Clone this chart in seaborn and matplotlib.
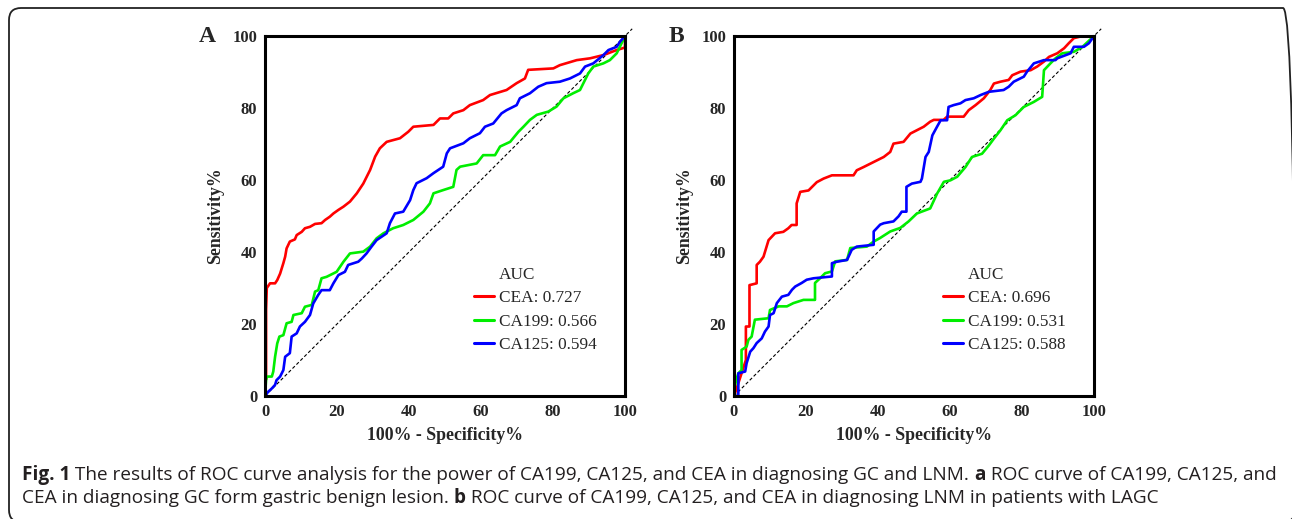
"""
ROC curves of CEA, CA199 and CA125 (Fig. 1, panels A and B)
"""
import numpy as np
import pandas as pd
import matplotlib
matplotlib.use("Agg")
import matplotlib.pyplot as plt
from matplotlib.lines import Line2D
from matplotlib.patches import FancyBboxPatch
from matplotlib.transforms import IdentityTransform
import seaborn as sns

# ---- data (100% - specificity%, sensitivity%) ----
markers = ["CEA", "CA199", "CA125"]
colors = ["#ff0000", "#00ee00", "#0000ff"]

auc_a = [0.727, 0.566, 0.594]
auc_b = [0.696, 0.531, 0.588]

# panel A: GC vs gastric benign lesion
a_cea_x = [0, 0, 0.3, 0.3, 0.5, 1.4, 2.8, 3.4, 4.2, 5.1, 5.6, 6, 6.9, 8.3, 8.8, 10.2, 11.1, 12.5, 13.9, 15.7,
           16.7, 18, 19, 20.4, 21.8, 23.6, 25.5, 27.3, 29.2, 30.6, 31.9, 33.8, 37.5, 39.8, 41.2, 46.8, 48.6,
           50.9, 52.3, 55.1, 56.9, 60.6, 62.5, 67.1, 69.9, 72.2, 73.1, 80.1, 81.9, 86.6, 90.3, 94, 97.7, 100, 100]
a_cea_y = [0, 4.6, 4.6, 24, 30, 31.3, 31.3, 32.2, 34, 36.9, 38.7, 41, 42.9, 43.5, 44.7, 45.6, 46.6, 47, 47.8, 48,
           48.9, 49.8, 50.7, 51.7, 52.6, 54, 56.3, 59, 62.8, 66.5, 68.8, 70.6, 71.6, 73.4, 74.8, 75.3, 77.1,
           77.1, 78.5, 79.4, 80.8, 82.2, 83.6, 85, 86.9, 88.2, 90.6, 91, 91.9, 93.3, 93.8, 94.7, 96.1, 96.8, 100]
a_ca199_x = [0, 0.3, 0.5, 1.9, 2.3, 2.8, 3.4, 4, 5.1, 6, 7.4, 7.9, 10.2, 11.1, 13, 13.9, 14.8, 15.7, 17.1, 19.9,
             21.8, 23.6, 27.3, 29.2, 31, 32.9, 35.6, 38.4, 41.2, 44, 45.8, 46.8, 49.5, 52.3, 53.2, 54.2, 58.8,
             60.6, 63.9, 65.3, 68.1, 70.4, 71.8, 73.6, 75.5, 78.7, 81, 82.9, 85.6, 87.5, 88.9, 89.8, 91.2, 94,
             95.8, 97.7, 99.5, 100]
a_ca199_y = [0, 4.4, 5.4, 5.4, 6.8, 10.9, 14.6, 16.5, 16.9, 20.2, 20.6, 22.5, 23, 24.8, 25.3, 29, 29.4, 32.7,
             33.1, 34.5, 37.3, 39.6, 40.1, 41.5, 43.8, 45.2, 46.6, 47.5, 48.9, 51.2, 53.5, 56.3, 57.2, 58.1,
             62.8, 63.7, 64.6, 66.9, 66.9, 69.3, 70.6, 73.4, 74.8, 76.7, 78.1, 79, 80.4, 82.7, 84.1, 85, 87.8,
             89.6, 91.5, 92.4, 93.3, 95.2, 98.9, 100]
a_ca125_x = [0, 0.9, 1.9, 2.8, 3.2, 4.2, 5.1, 5.6, 6.9, 7.4, 8.8, 9.7, 11.1, 12.5, 13.4, 14.8, 15.7, 18, 19,
             20.4, 22.2, 23.1, 25.9, 26.9, 28.2, 29.6, 31, 33.8, 34.7, 36.1, 38.4, 40.3, 41.2, 42.1, 44.9, 46.8,
             49.5, 50.5, 51.4, 55.1, 56.9, 59.7, 61.1, 63.4, 65.7, 67.1, 69.9, 70.8, 73.6, 75.9, 78.2, 81.9,
             84.7, 87.5, 88.9, 91.2, 94, 95.4, 97.7, 98.6, 100]
a_ca125_y = [0, 1.2, 2.1, 3.1, 4.4, 5.4, 7.2, 10.9, 11.9, 16.5, 17.4, 19.3, 20.6, 22.5, 25.7, 28.1, 29.4, 29.4,
             31.3, 33.6, 34.5, 36.4, 37.3, 38.2, 39.6, 41.5, 43.3, 45.2, 48, 50.7, 51.2, 54.4, 57.2, 59.1, 60.5,
             61.9, 63.7, 67.4, 68.8, 70.2, 71.6, 73, 74.8, 75.7, 78.5, 79.4, 80.8, 82.7, 84.1, 85.9, 86.9, 87.3,
             88.2, 89.6, 91.5, 92.4, 94.7, 96.1, 97, 98.4, 100]

# panel B: LNM in patients with LAGC
b_cea_x = [0, 0.6, 3.3, 3.3, 4.3, 4.3, 6.3, 6.3, 7.2, 8.2, 9.6, 11.4, 13.7, 15.1, 16, 17.4, 17.4, 18.4, 20.7,
           22.1, 23, 24.9, 27.2, 33.2, 34.1, 36, 38.8, 41.6, 43.4, 44.3, 47.1, 49, 52.7, 54.5, 55.5, 58.2, 59.2,
           63.8, 65.2, 67.1, 69.4, 71.2, 72.2, 74, 76.3, 77.3, 79.6, 82.4, 84.2, 86.1, 87.5, 89.8, 91.7, 93,
           94.4, 96.8, 100]
b_cea_y = [0, 1.7, 10, 19.3, 19.3, 30.8, 31.3, 36.4, 37.3, 38.7, 43.3, 45.2, 45.6, 46.6, 47.5, 47.5, 53.5, 56.7,
           57.1, 58.5, 59.4, 60.4, 61.3, 61.3, 62.7, 63.6, 65, 66.4, 67.8, 70.1, 70.6, 72.9, 74.8, 76.2, 76.7,
           76.7, 77.6, 77.6, 79.4, 80.8, 82.7, 85, 86.8, 87.3, 87.8, 89.1, 90.1, 90.5, 91.5, 92.9, 94.2, 95.2,
           96.6, 98, 99.4, 100, 100]
b_ca199_x = [0, 0, 0.6, 1.2, 2.1, 2.1, 3.5, 4, 4.9, 5.8, 9.6, 10, 12.4, 14.7, 16.5, 19.3, 22.5, 22.5, 23.9, 25.3,
             27.2, 28.1, 31.4, 32.3, 36.9, 38.8, 40.6, 43.4, 46.2, 48.5, 50.8, 54.5, 56.4, 58.3, 60.1, 62, 64.3,
             66.1, 68.9, 70.8, 72.2, 74, 75.9, 78.2, 80.5, 83.3, 85.6, 86.1, 87.9, 89.3, 91.2, 94.4, 96.8, 100]
b_ca199_y = [0, 1.7, 4.4, 6.3, 7.2, 12.8, 13.7, 15.6, 16.5, 21.2, 21.6, 23.9, 24.9, 24.9, 25.8, 26.7, 26.7, 31.4,
             32.7, 34.1, 34.6, 37.4, 37.8, 41.1, 41.5, 42.9, 43.9, 45.7, 46.7, 48.5, 50.7, 52.1, 56.2, 59.5,
             59.9, 60.9, 63.6, 66.4, 67.3, 69.6, 71.5, 73.8, 76.6, 78, 80.3, 81.7, 83.1, 90.5, 92.4, 93.8, 95.2,
             95.6, 97, 100]
b_ca125_x = [0, 1.2, 1.2, 3.1, 3.5, 4.5, 5.4, 6.3, 7.7, 8.6, 9.6, 10, 11, 11.9, 13.3, 15.1, 16.1, 17, 18.8, 20.2,
             22.1, 27.2, 27.2, 28.6, 31.4, 32.7, 34.1, 38.8, 38.8, 40.6, 41.6, 44.3, 45.7, 46.6, 47.9, 47.9, 49.4,
             51.8, 52.2, 53.2, 54.1, 55.1, 56.4, 57.4, 59.2, 59.6, 61, 62.9, 64.3, 66.6, 68.5, 70.8, 74.9, 76.3,
             77.7, 80.5, 81.4, 83.3, 86.1, 89.3, 89.8, 93.5, 94.4, 97.2, 98.6, 100]
b_ca125_y = [0, 0, 6.3, 6.8, 9.1, 12.3, 13.3, 14.7, 16, 17.9, 19.3, 22.5, 23, 25.8, 27.6, 28.1, 29.5, 30.4, 31.4,
             32.3, 32.7, 33.2, 36.9, 37.3, 37.8, 40.6, 41.5, 42, 45.7, 47.6, 48, 48.5, 49.9, 51.2, 51.2, 58.1, 59,
             59.5, 60.4, 66.4, 67.8, 72.4, 74.8, 76.6, 76.6, 80.3, 80.8, 81.3, 82.2, 82.7, 83.6, 84.5, 85, 85.9,
             87.3, 88.7, 90.1, 92.4, 93.3, 93.3, 93.8, 95.2, 97, 97, 98, 100]

caption_1 = [("Fig. 1", "bold"),
             (" The results of ROC curve analysis for the power of CA199, CA125, and CEA in diagnosing GC and LNM. ", "normal"),
             ("a", "bold"),
             (" ROC curve of CA199, CA125, and", "normal")]
caption_2 = [("CEA in diagnosing GC form gastric benign lesion. ", "normal"),
             ("b", "bold"),
             (" ROC curve of CA199, CA125, and CEA in diagnosing LNM in patients with LAGC", "normal")]


def make_frame(curves, aucs):
    parts = []
    for name, (xs, ys), auc in zip(markers, curves, aucs):
        parts.append(pd.DataFrame({"fpr": xs, "sens": ys, "curve": f"{name}: {auc:.3f}"}))
    return pd.concat(parts, ignore_index=True)


df_a = make_frame([(a_cea_x, a_cea_y), (a_ca199_x, a_ca199_y), (a_ca125_x, a_ca125_y)], auc_a)
df_b = make_frame([(b_cea_x, b_cea_y), (b_ca199_x, b_ca199_y), (b_ca125_x, b_ca125_y)], auc_b)

sns.set_theme(style="white")
plt.rcParams["font.family"] = ["Liberation Serif", "DejaVu Serif"]

fig = plt.figure(figsize=(12.92, 5.19), dpi=100)
ax_a = fig.add_axes([265 / 1292, 1 - 396 / 519, 360 / 1292, 360 / 519])
ax_b = fig.add_axes([734 / 1292, 1 - 396 / 519, 360 / 1292, 360 / 519])


def draw_panel(ax, df, letter):
    labels = df["curve"].unique().tolist()
    sns.lineplot(data=df, x="fpr", y="sens", hue="curve", hue_order=labels,
                 palette=dict(zip(labels, colors)), sort=False, estimator=None,
                 lw=1.9, ax=ax, legend=False)
    # reference diagonal
    ax.plot([0, 102], [0, 102], color="black", lw=0.8, ls=(0, (3, 2)), clip_on=False, zorder=1)

    ax.set_xlim(0, 100)
    ax.set_ylim(0, 100)
    ax.set_xticks(range(0, 101, 20))
    ax.set_yticks(range(0, 101, 20))
    ax.tick_params(axis="both", which="major", direction="out", length=4, width=1.6,
                   color="black", labelsize=12, pad=1.5)
    for lab in ax.get_xticklabels() + ax.get_yticklabels():
        lab.set_fontweight("bold")
    for sp in ax.spines.values():
        sp.set_visible(True)
        sp.set_color("black")
        sp.set_linewidth(2.2)

    ax.set_xlabel("100% - Specificity%", fontsize=12.8, fontweight="bold", labelpad=5)
    ax.set_ylabel("Sensitivity%", fontsize=12.8, fontweight="bold", labelpad=6)
    ax.text(-0.16, 1.0, letter, transform=ax.transAxes, fontsize=17, fontweight="bold",
            ha="center", va="center")

    handles = [Line2D([], [], color="none")] + [Line2D([], [], color=c, lw=2.2) for c in colors]
    leg = ax.legend(handles, ["AUC"] + labels, loc="upper left", bbox_to_anchor=(0.58, 0.358),
                    frameon=False, fontsize=12.4, handlelength=1.15, handletextpad=0.3,
                    labelspacing=0.42, borderpad=0, borderaxespad=0)
    return leg


draw_panel(ax_a, df_a, "A")
draw_panel(ax_b, df_b, "B")

# rounded frame round the whole figure, in pixels; right and bottom edges run just off the picture
frame = FancyBboxPatch((9, -3), 1286, 514, boxstyle="round,pad=0,rounding_size=12",
                       transform=IdentityTransform(), fill=False, ec="#222222", lw=1.3, clip_on=False)
fig.patches.append(frame)

# caption, written piece by piece so the bold parts sit inline
renderer = fig.canvas.get_renderer()


def write_line(pieces, x, y):
    for text, weight in pieces:
        t = fig.text(x, y, text, fontsize=13.65, fontweight=weight, family=["Open Sans", "DejaVu Sans"],
                     color="#231f20", ha="left", va="baseline")
        bb = t.get_window_extent(renderer)
        x = bb.x1 / fig.bbox.width


write_line(caption_1, 22 / 1292, 1 - 480 / 519)
write_line(caption_2, 22 / 1292, 1 - 503 / 519)

fig.savefig("out.png", dpi=100)
